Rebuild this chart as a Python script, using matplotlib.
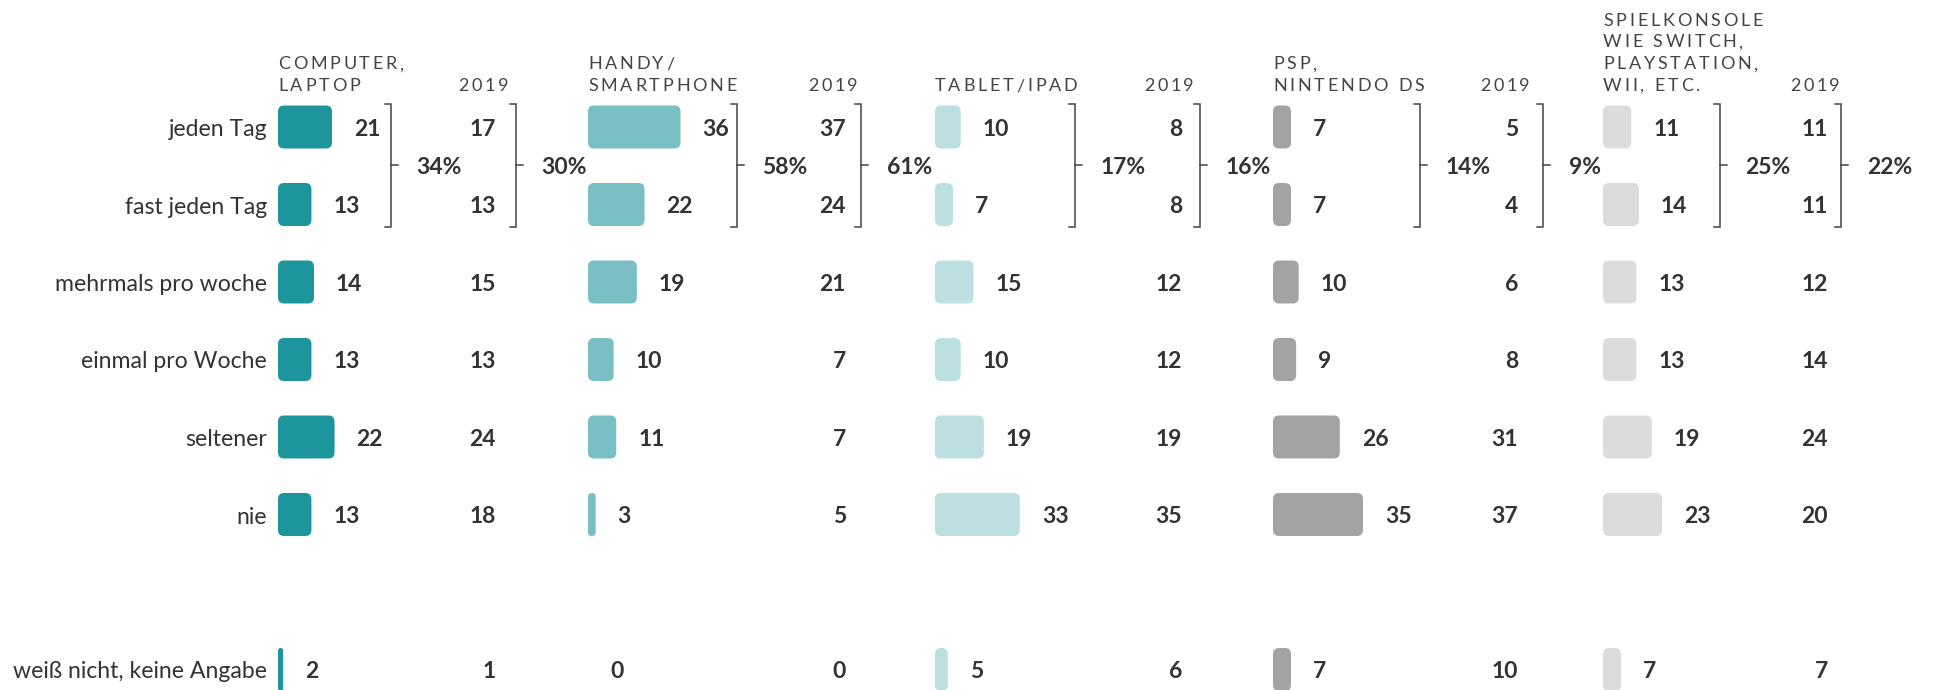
import matplotlib
matplotlib.use("Agg")
import matplotlib.pyplot as plt
from matplotlib.patches import FancyBboxPatch
from matplotlib.font_manager import FontProperties

plt.rcParams['font.family'] = ['Lato', 'DejaVu Sans']

# --- data ---
categories = ["jeden Tag", "fast jeden Tag", "mehrmals pro woche", "einmal pro Woche",
              "seltener", "nie", "weiß nicht, keine Angabe"]
row_slots = [0, 1, 2, 3, 4, 5, 7]  # one empty slot before the last row

headers = [["COMPUTER,", "LAPTOP"],
           ["HANDY/", "SMARTPHONE"],
           ["TABLET/IPAD"],
           ["PSP,", "NINTENDO DS"],
           ["SPIELKONSOLE", "WIE SWITCH,", "PLAYSTATION,", "WII, ETC."]]
year_label = "2019"

computer = [21, 13, 14, 13, 22, 13, 2]
computer_2019 = [17, 13, 15, 13, 24, 18, 1]
handy = [36, 22, 19, 10, 11, 3, 0]
handy_2019 = [37, 24, 21, 7, 7, 5, 0]
tablet = [10, 7, 15, 10, 19, 33, 5]
tablet_2019 = [8, 8, 12, 12, 19, 35, 6]
psp = [7, 7, 10, 9, 26, 35, 7]
psp_2019 = [5, 4, 6, 8, 31, 37, 10]
konsole = [11, 14, 13, 13, 19, 23, 7]
konsole_2019 = [11, 11, 12, 14, 24, 20, 7]

current = [computer, handy, tablet, psp, konsole]
previous = [computer_2019, handy_2019, tablet_2019, psp_2019, konsole_2019]
colors = ["#1c959c", "#79bfc4", "#bcdfe2", "#a3a3a3", "#dcdcdc"]

# --- layout (pixels) ---
W, H, DPI = 1937, 690, 100
col_x = [278, 588, 935, 1273, 1603]        # bar start of each device
col_r = [496, 846, 1182, 1518, 1828]       # right edge of 2019 column
br1_x = [390.5, 736.5, 1074.5, 1420, 1719.5]
br2_x = [515.5, 861, 1199.5, 1543, 1841]
px_per_unit = 2.57
row0, row_step, bar_h = 127, 77.5, 43
label_gap = 22
txt = "#333333"

fig = plt.figure(figsize=(W / DPI, H / DPI), dpi=DPI)
ax = fig.add_axes([0, 0, 1, 1])
ax.set_xlim(0, W)
ax.set_ylim(H, 0)
ax.axis("off")
renderer = fig.canvas.get_renderer()

num_font = dict(fontsize=16.5, fontweight="bold", color=txt)
hdr_prop = FontProperties(family=["Lato", "DejaVu Sans"], size=13)


def advance(c, prop):
    # width a character adds between two n's, in pixels
    w1 = renderer.get_text_width_height_descent("n" + c + "n", prop, False)[0]
    w0 = renderer.get_text_width_height_descent("nn", prop, False)[0]
    return w1 - w0


def tracked(x, y, s, ha="left", spacing=2.8):
    advs = [advance(c, hdr_prop) for c in s]
    total = sum(advs) + spacing * (len(s) - 1)
    if ha == "right":
        x = x - total
    for c, a in zip(s, advs):
        if c != " ":
            ax.text(x, y, c, fontproperties=hdr_prop, color="#444444",
                    ha="left", va="baseline")
        x += a + spacing


def yc(i):
    return row0 + row_slots[i] * row_step


# category labels
for i, cat in enumerate(categories):
    ax.text(267, yc(i) + 9, cat, fontsize=16.6, color=txt, ha="right", va="baseline")

for k in range(5):
    x0 = col_x[k]
    # header
    lines = headers[k]
    for j, line in enumerate(lines):
        tracked(x0, 91 - (len(lines) - 1 - j) * 21.8, line)
    tracked(col_r[k] + 12, 91, year_label, ha="right")

    for i, v in enumerate(current[k]):
        w = v * px_per_unit
        if w > 0:
            r = min(6, w / 2)
            ax.add_patch(FancyBboxPatch((x0, yc(i) - bar_h / 2), w, bar_h,
                                        boxstyle=f"round,pad=0,rounding_size={r}",
                                        facecolor=colors[k], edgecolor="none"))
        ax.text(x0 + w + label_gap, yc(i) + 8.7, str(v), ha="left", va="baseline", **num_font)
        ax.text(col_r[k], yc(i) + 8.7, str(previous[k][i]), ha="right", va="baseline", **num_font)

    # brackets summarising the two daily rows
    top = yc(0) - bar_h / 2 - 1.5
    bot = yc(1) + bar_h / 2 + 0.5
    mid = (top + bot) / 2
    for bx, vals in ((br1_x[k], current[k]), (br2_x[k], previous[k])):
        ax.plot([bx - 6, bx, bx, bx - 6], [top, top, bot, bot], color="#444444", lw=1.1,
                solid_joinstyle="miter")
        ax.plot([bx, bx + 7], [mid, mid], color="#444444", lw=1.1)
        ax.text(bx + 26, mid + 8.5, f"{vals[0] + vals[1]}%", ha="left", va="baseline", **num_font)

fig.savefig("out.png", dpi=DPI)
